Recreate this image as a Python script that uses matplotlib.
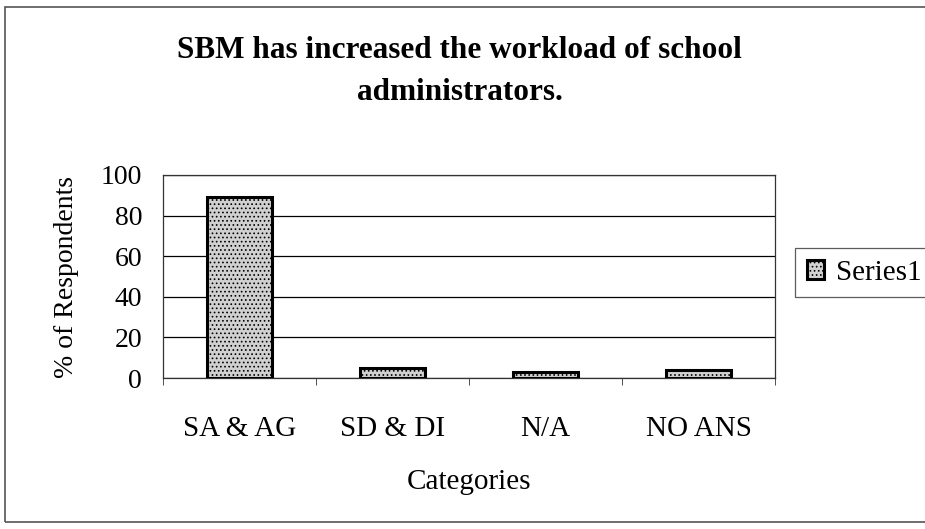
import matplotlib
matplotlib.use("Agg")
import matplotlib.pyplot as plt
from matplotlib.patches import Rectangle

categories = ["SA & AG", "SD & DI", "N/A", "NO ANS"]
values = [89, 5, 3, 4]
series_name = "Series1"
yticks = [0, 20, 40, 60, 80, 100]

plt.rcParams['font.family'] = ['Liberation Serif', 'DejaVu Serif']
plt.rcParams['hatch.color'] = '#7a7a7a'
plt.rcParams['hatch.linewidth'] = 0.7

fig = plt.figure(figsize=(9.25, 5.29), dpi=100)
fig.patch.set_facecolor('white')
fig.add_artist(Rectangle((5/925, 7/529), 1.2, 1 - 14/529, transform=fig.transFigure,
                         fill=False, edgecolor='#555555', linewidth=1.2))

ax = fig.add_axes([163/925, 1 - 378/529, (775 - 163)/925, (378 - 175)/529])
x = list(range(len(categories)))
bars = ax.bar(x, values, width=0.42, facecolor='#d0d0d0', edgecolor='black',
              linewidth=2.2, hatch='....', label=series_name, zorder=3)
ax.set_xlim(-0.5, len(categories) - 0.5)
ax.set_ylim(0, 100)
ax.set_yticks(yticks)
ax.set_yticklabels([str(v) for v in yticks], fontsize=20)
ax.set_xticks(x)
ax.set_xticklabels(categories, fontsize=21)
ax.tick_params(axis='x', length=0, pad=27)
ax.tick_params(axis='y', length=0, pad=15)
ax.set_xticks([i - 0.5 for i in range(len(categories) + 1)], minor=True)
ax.tick_params(axis='x', which='minor', length=5, direction='out', color='#333333')
ax.grid(axis='y', color='black', linewidth=0.9, zorder=0)
for s in ax.spines.values():
    s.set_color('#333333')
    s.set_linewidth(0.9)
ax.set_ylabel("% of Respondents", fontsize=20, labelpad=16)
ax.set_xlabel("Categories", fontsize=21, labelpad=20)

fig.text(0.497, 1 - 50/529, "SBM has increased the workload of school", ha='center', va='center',
         fontsize=22.5, fontweight='bold')
fig.text(0.497, 1 - 92/529, "administrators.", ha='center', va='center',
         fontsize=22.5, fontweight='bold')

leg = fig.legend(handles=[bars], labels=[series_name], loc='upper left',
                 bbox_to_anchor=(795/925, 1 - 248/529), fontsize=21,
                 frameon=True, fancybox=False, edgecolor='#333333',
                 handlelength=0.6, handleheight=0.6, handletextpad=0.4,
                 borderpad=0.4, borderaxespad=0)
leg.get_frame().set_linewidth(0.9)

fig.savefig("out.png", dpi=100)
